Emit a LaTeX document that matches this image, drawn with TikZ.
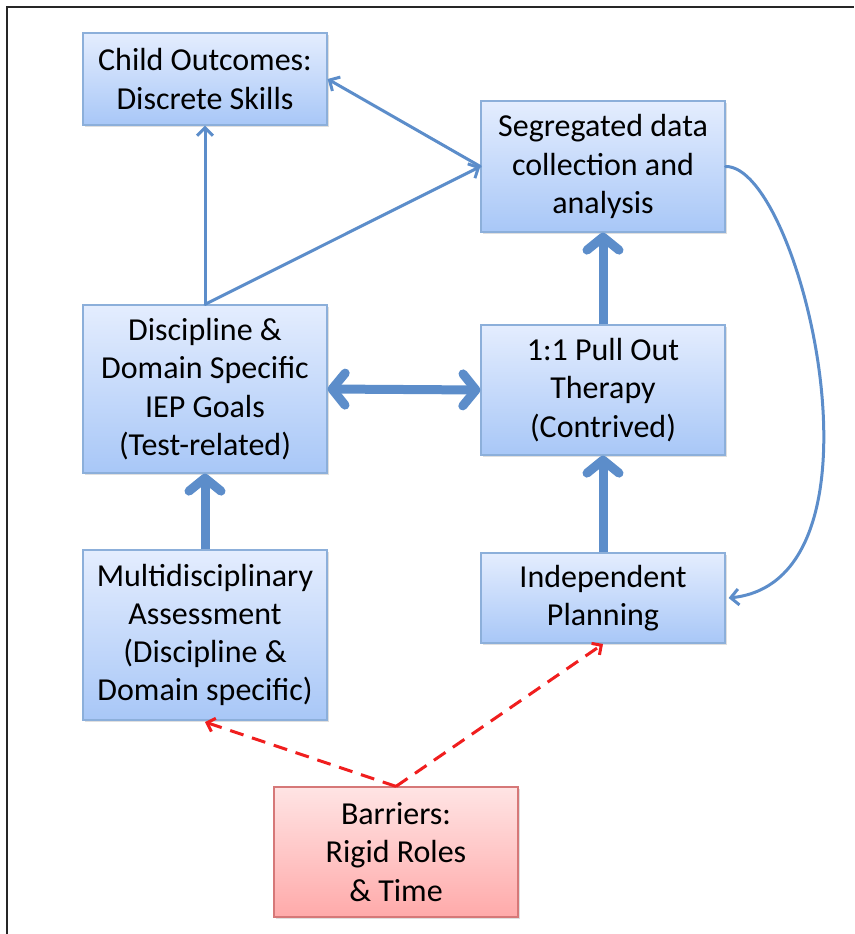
\documentclass[tikz,border=0pt]{standalone}
\usepackage{fontspec}
\setmainfont{Carlito}
\usetikzlibrary{arrows.meta,shadows}
\definecolor{arrowblue}{RGB}{92,141,202}
\definecolor{boxtop}{RGB}{228,237,254}
\definecolor{boxbot}{RGB}{168,199,247}
\definecolor{boxedge}{RGB}{140,175,218}
\definecolor{redtop}{RGB}{255,228,228}
\definecolor{redbot}{RGB}{255,170,170}
\definecolor{rededge}{RGB}{214,120,120}
\definecolor{dashred}{RGB}{240,30,30}
\tikzset{
  bluebox/.style={draw=boxedge, line width=1.2pt, top color=boxtop, bottom color=boxbot,
    minimum width=244pt, inner sep=0pt, align=center,
    font=\fontsize{32}{38.3}\selectfont,
    drop shadow={opacity=0.25, shadow xshift=1.5pt, shadow yshift=-2pt}},
  redbox/.style={bluebox, draw=rededge, top color=redtop, bottom color=redbot},
  thinarrow/.style={draw=arrowblue, line width=3pt, line cap=round,
    -{Straight Barb[length=8pt,width=16pt,line width=3pt]}},
  thickarrow/.style={draw=arrowblue, line width=9pt,
    -{Straight Barb[length=13pt,width=32pt,line width=9pt,round]}},
  thickboth/.style={draw=arrowblue, line width=9pt,
    {Straight Barb[length=13pt,width=32pt,line width=9pt,round]}-{Straight Barb[length=13pt,width=32pt,line width=9pt,round]}},
  dasharrow/.style={draw=dashred, line width=3pt, dash pattern=on 14pt off 9pt,
    -{Straight Barb[length=7pt,width=14pt,line width=3pt]}}
}
\begin{document}
\begin{tikzpicture}[x=1pt,y=-1pt]
\useasboundingbox (0,0) rectangle (854,934);
\draw[line width=1.6pt, black!85] (7,934) -- (7,7) -- (854,7);

\node[bluebox, minimum height=92pt] (child) at (205,79) {Child Outcomes:\\Discrete Skills};
\node[bluebox, minimum height=131pt] (seg) at (603,166.5) {Segregated data\\collection and\\analysis};
\node[bluebox, minimum height=168pt] (disc) at (205,389) {Discipline \&\\Domain Specific\\IEP Goals\\(Test-related)};
\node[bluebox, minimum height=130pt] (pull) at (603,390) {1:1 Pull Out\\Therapy\\(Contrived)};
\node[bluebox, minimum height=170pt] (multi) at (205,635) {Multidisciplinary\\Assessment\\(Discipline \&\\Domain specific)};
\node[bluebox, minimum height=90pt] (indep) at (603,598) {Independent\\Planning};
\node[redbox, minimum height=130pt] (barr) at (396,852) {Barriers:\\Rigid Roles\\\& Time};

\coordinate (dtop) at (disc.north);
\coordinate (segl) at (seg.west);
\draw[thinarrow] (dtop) -- (child.south);
\draw[thinarrow] (dtop) -- (segl);
\draw[thinarrow] (segl) -- (child.east);
\draw[thickboth] (disc.east) -- (pull.west);
\draw[thickarrow] (pull.north) -- (seg.south);
\draw[thickarrow] (indep.north) -- (pull.south);
\draw[thickarrow] (multi.north) -- (disc.south);
\coordinate (indr) at ([xshift=3pt]indep.east);
\draw[thinarrow] (seg.east) .. controls (800,165) and (900,580) .. (indr);
\coordinate (btop) at (barr.north);
\coordinate (mtarget) at (205,722);
\coordinate (itarget) at (603,644);
\draw[dasharrow] (btop) -- (mtarget);
\draw[dasharrow] (btop) -- (itarget);
\end{tikzpicture}
\end{document}
